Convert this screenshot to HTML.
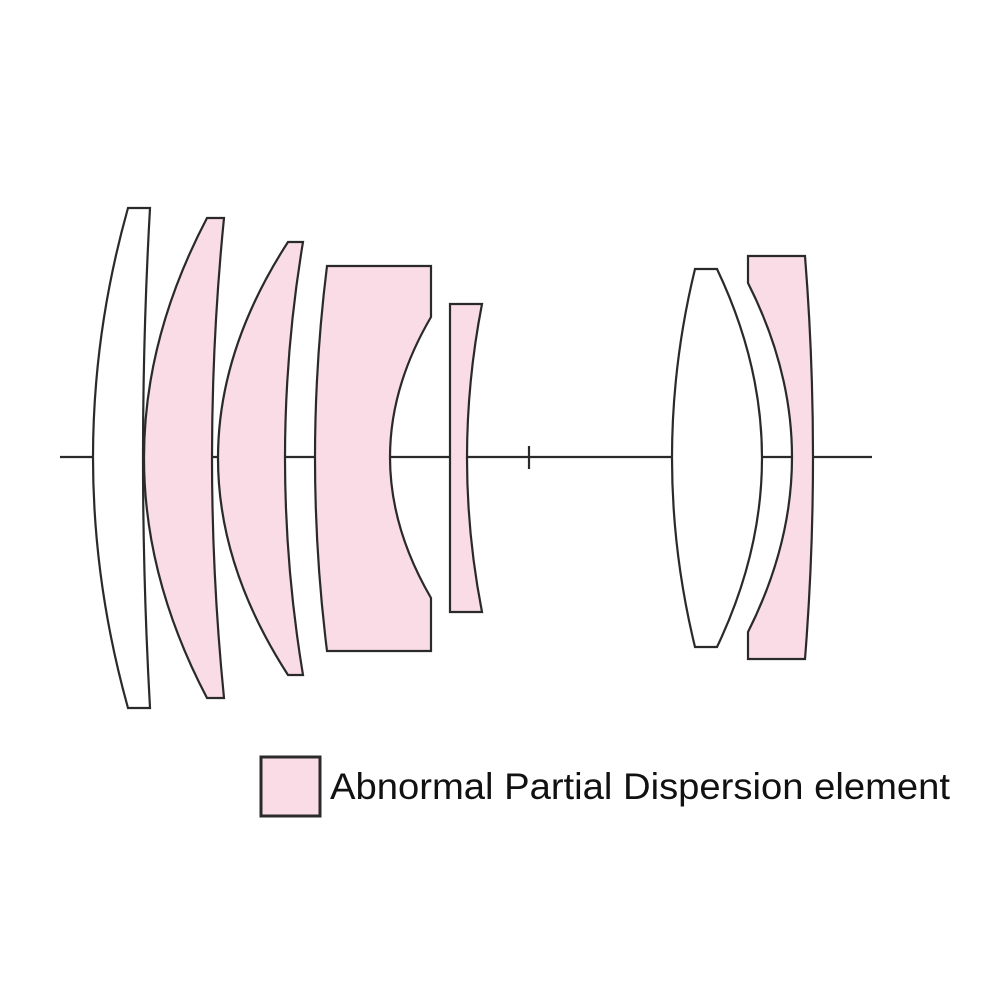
<!DOCTYPE html>
<html><head><meta charset="utf-8"><style>html,body{margin:0;padding:0;background:#fff}svg{display:block}</style></head>
<body>
<svg width="1000" height="1000" viewBox="0 0 1000 1000" xmlns="http://www.w3.org/2000/svg">
<rect width="1000" height="1000" fill="#fff"/>
<g stroke="#2a2a2a" stroke-width="2.2" fill="none">
<line x1="60" y1="457" x2="872" y2="457"/>
<line x1="529" y1="446" x2="529" y2="469"/>
</g>
<g stroke="#2a2a2a" stroke-width="2.2" stroke-linejoin="miter">
<path d="M128,208 L150,208 Q136,457 150,708 L128,708 Q58,457 128,208 Z" fill="#fff"/>
<path d="M207,218 L224,218 Q200,458 224,698 L207,698 Q81,458 207,218 Z" fill="#fadce6"/>
<path d="M288,242 L303,242 Q267,458 303,675 L288,675 Q148,458 288,242 Z" fill="#fadce6"/>
<path d="M327,266 L431,266 L431,317 Q349,457 431,598 L431,651 L327,651 Q303,458 327,266 Z" fill="#fadce6"/>
<path d="M450,304 L482,304 Q452,458 482,612 L450,612 Z" fill="#fadce6"/>
<path d="M695,269 L717,269 Q807,458 717,647 L695,647 Q649,458 695,269 Z" fill="#fff"/>
<path d="M748,256 L805,256 Q821,457 805,659 L748,659 L748,632 Q836,457 748,283 Z" fill="#fadce6"/>
<rect x="261" y="757" width="59" height="59" fill="#fadce6" stroke-width="3"/>
</g>
<text x="330" y="799" font-family="Liberation Sans, sans-serif" font-size="37" fill="#111" textLength="620" lengthAdjust="spacingAndGlyphs">Abnormal Partial Dispersion element</text>
</svg>
</body></html>
